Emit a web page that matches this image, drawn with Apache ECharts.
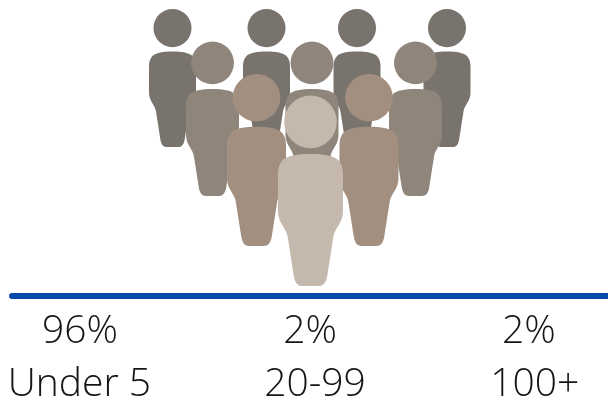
<!DOCTYPE html>
<html>
<head>
<meta charset="utf-8">
<style>html,body{margin:0;padding:0;background:#fff}#c{width:608px;height:404px}</style>
<script src="https://cdn.jsdelivr.net/npm/echarts@6/dist/echarts.min.js"></script>
</head>
<body>
<div id="c"></div>
<script>
var categories = ['Under 5', '20-99', '100+'];
var shares = [96, 2, 2];
var shareNudge = [-21.3, 6, 22.3];
var nameNudge = [-22, 11, 28];

var backRow = [[172.5, 78], [266.5, 78], [357, 78], [447, 78]];
var secondRow = [[212.5, 118.75], [312, 118.75], [415.5, 118.75]];
var thirdRow = [[256.5, 160], [369, 160]];
var frontRow = [[310.5, 190.75]];

var person = 'path://M9.5 40.5A40.5 40.5 0 1 1 90.5 40.5A40.5 40.5 0 1 1 9.5 40.5Z' +
  'M50 90C70 90 86 93 92 99C98 105 100 112 100 122L100 178C100 196 87 204 85 218L76 276C74 288 70 293 62 293L38 293C30 293 26 288 24 276L15 218C13 204 0 196 0 178L0 122C0 112 2 105 8 99C14 93 30 90 50 90Z';

function tier(data, w, h, color) {
  return {
    type: 'scatter', xAxisIndex: 0, yAxisIndex: 0, data: data,
    symbol: person, symbolSize: [w, h], clip: false,
    itemStyle: { color: color, opacity: 1 }, silent: true
  };
}

var font = '"Open Sans"';
var rich = {};
function nudge(n) { return n >= 0 ? [0, 0, 0, n * 2] : [0, -n * 2, 0, 0]; }
categories.forEach(function (c, i) {
  rich['s' + i] = { fontFamily: font, fontWeight: 300, fontSize: 39, color: '#151515', lineHeight: 53, padding: nudge(shareNudge[i]) };
  rich['n' + i] = { fontFamily: font, fontWeight: 300, fontSize: 39, color: '#151515', lineHeight: 53, padding: nudge(nameNudge[i]) };
});

var chart = echarts.init(document.getElementById('c'), null, { renderer: 'canvas' });
chart.setOption({
  animation: false,
  backgroundColor: '#fff',
  grid: [
    { left: 12, right: 0, top: 0, height: 295.5, containLabel: false },
    { left: 0, width: 608, top: 100, height: 200, containLabel: false }
  ],
  xAxis: [
    { type: 'value', gridIndex: 0, min: 12, max: 608, splitLine: { show: false }, axisTick: { show: false }, axisLabel: { show: false },
      axisLine: { show: true, onZero: false, lineStyle: { color: '#0549ad', width: 6, cap: 'round' } } },
    { type: 'category', gridIndex: 1, data: categories, axisLine: { show: false }, axisTick: { show: false },
      axisLabel: { show: true, interval: 0, margin: 7, hideOverlap: false, rich: rich,
        formatter: function (v, i) { return '{s' + i + '|' + shares[i] + '%}\n{n' + i + '|' + v + '}'; } } }
  ],
  yAxis: [
    { type: 'value', gridIndex: 0, inverse: true, min: 0, max: 295.5, show: false },
    { type: 'value', gridIndex: 1, show: false }
  ],
  series: [
    tier(backRow, 47, 138, '#78736c'),
    tier(secondRow, 53, 154.5, '#8f857b'),
    tier(thirdRow, 59, 172, '#a38f80'),
    tier(frontRow, 65, 190.5, '#c5b8ad')
  ]
});
</script>
</body>
</html>
